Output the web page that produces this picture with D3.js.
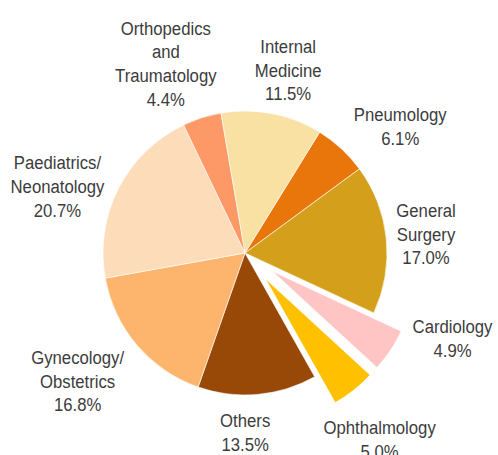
<!DOCTYPE html>
<html>
<head>
<meta charset="utf-8">
<script src="https://cdn.jsdelivr.net/npm/d3@7"></script>
<style>
  body { margin: 0; background: #fff; }
  .lbl { font-family: "Liberation Sans Narrow", "Arial Narrow", "Liberation Sans", Arial, sans-serif; font-size: 19px; fill: #3c3c3c; }
</style>
</head>
<body>
<div id="chart"></div>
<script>
// departments, clockwise starting from Pneumology
var departments = ["Pneumology", "General Surgery", "Cardiology", "Ophthalmology", "Others",
  "Gynecology/ Obstetrics", "Paediatrics/ Neonatology", "Orthopedics and Traumatology", "Internal Medicine"];
var shares = [6.1, 17.0, 4.9, 5.0, 13.5, 16.8, 20.7, 4.4, 11.5];
var labelLines = [["Pneumology"], ["General", "Surgery"], ["Cardiology"], ["Ophthalmology"], ["Others"],
  ["Gynecology/", "Obstetrics"], ["Paediatrics/", "Neonatology"], ["Orthopedics", "and", "Traumatology"], ["Internal", "Medicine"]];
var exploded = ["Cardiology", "Ophthalmology"];

var colors = ["#E8760A", "#D4A01C", "#FFC4C4", "#FFC000", "#984807", "#FDB56D", "#FDDCB9", "#FC9966", "#F9E1A4"];

var svgWidth = 498, svgHeight = 455;
var cx = 245, cy = 253, radius = 142, explode = 33;

var svg = d3.select("#chart").append("svg")
  .attr("width", svgWidth)
  .attr("height", svgHeight);

var g = svg.append("g").attr("transform", `translate(${cx}, ${cy})`);

var start = 31.7 * Math.PI / 180;
var pie = d3.pie().sort(null).value(d => d.value)
  .startAngle(start).endAngle(start + 2 * Math.PI);

var data = departments.map((d, i) => ({name: d, value: shares[i], lines: labelLines[i], color: colors[i]}));
var arcs = pie(data);

var arc = d3.arc().innerRadius(0).outerRadius(radius);

function offset(d) {
  if (exploded.indexOf(d.data.name) < 0) return [0, 0];
  var a = (d.startAngle + d.endAngle) / 2;
  return [Math.sin(a) * explode, -Math.cos(a) * explode];
}

g.selectAll("path")
  .data(arcs)
  .enter()
  .append("path")
  .attr("d", arc)
  .attr("transform", d => `translate(${offset(d)})`)
  .attr("fill", d => d.data.color)
  .attr("stroke", "#fff")
  .attr("stroke-width", 0.6);

// label nudges from the label-arc centroid (layout only)
var nudge = {
  "Pneumology": [23, 16],
  "General Surgery": [-13, 0],
  "Cardiology": [18, -42],
  "Ophthalmology": [-7, 7],
  "Others": [-17, -15],
  "Gynecology/ Obstetrics": [-19, 1],
  "Paediatrics/ Neonatology": [-14, 22],
  "Orthopedics and Traumatology": [-20, -4],
  "Internal Medicine": [6, 8]
};
var labelR = 195, lh = 23.7;

arcs.forEach(function(d) {
  var a = (d.startAngle + d.endAngle) / 2;
  var o = offset(d);
  var r = labelR + (o[0] || o[1] ? explode : 0);
  var x = Math.sin(a) * r + nudge[d.data.name][0];
  var y = -Math.cos(a) * r + nudge[d.data.name][1];
  var lines = d.data.lines.concat([d.data.value.toFixed(1) + "%"]);
  // condensed look: squeeze the text horizontally
  var t = g.append("text")
    .attr("class", "lbl")
    .attr("text-anchor", "middle")
    .attr("transform", `translate(${x}, ${y - (lines.length - 1) * lh / 2 + 7}) scale(0.88, 1)`);
  lines.forEach(function(l, i) {
    t.append("tspan").attr("x", 0).attr("dy", i === 0 ? 0 : lh).text(l);
  });
});
</script>
</body>
</html>
